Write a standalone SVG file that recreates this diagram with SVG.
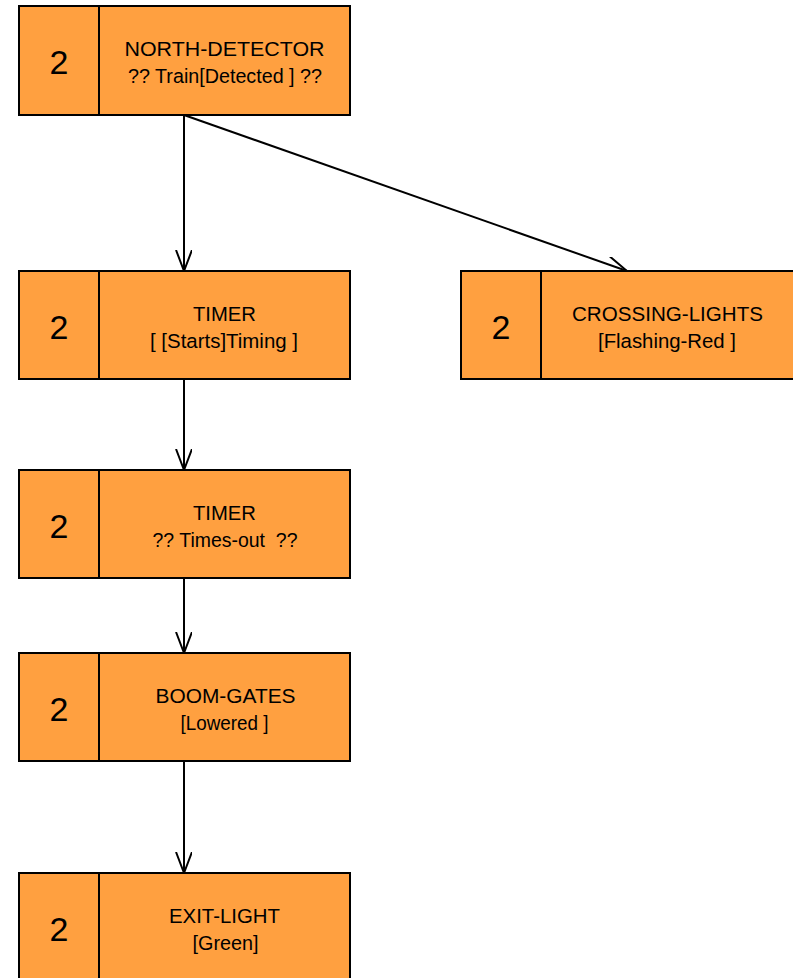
<svg xmlns="http://www.w3.org/2000/svg" width="793" height="978" viewBox="0 0 793 978">
  <defs>
    <style>
      .box { fill: #FFA040; stroke: #000; stroke-width: 2; }
      .div { stroke: #000; stroke-width: 2; }
      .num { font-family: "Liberation Sans", Arial, sans-serif; font-size: 34px; fill: #000; text-anchor: middle; }
      .lbl { font-family: "Liberation Sans", Arial, sans-serif; font-size: 20.5px; fill: #000; text-anchor: middle; white-space: pre; }
      .edge { stroke: #000; stroke-width: 2; fill: none; }
    </style>
    <marker id="open-arrow" markerUnits="userSpaceOnUse" markerWidth="24" markerHeight="20" refX="21" refY="8" orient="auto" viewBox="0 0 24 20">
      <path d="M0,0 L21,8 L0,16" fill="none" stroke="#000" stroke-width="2"/>
    </marker>
  </defs>

  <g id="connectors">
    <line class="edge" x1="184" y1="115" x2="184" y2="271" marker-end="url(#open-arrow)"/>
    <line class="edge" x1="184" y1="115" x2="627" y2="271" marker-end="url(#open-arrow)"/>
    <line class="edge" x1="184" y1="379" x2="184" y2="470" marker-end="url(#open-arrow)"/>
    <line class="edge" x1="184" y1="578" x2="184" y2="653" marker-end="url(#open-arrow)"/>
    <line class="edge" x1="184" y1="761" x2="184" y2="873" marker-end="url(#open-arrow)"/>
  </g>

  <g id="north-detector">
    <rect class="box" x="19" y="6" width="331" height="109"/>
    <line class="div" x1="99" y1="6" x2="99" y2="115"/>
    <text class="num" x="59" y="74">2</text>
    <text class="lbl" x="224.5" y="56" textLength="200" lengthAdjust="spacingAndGlyphs">NORTH-DETECTOR</text>
    <text class="lbl" x="225" y="83" textLength="194" lengthAdjust="spacingAndGlyphs">?? Train[Detected ] ??</text>
  </g>

  <g id="timer-starts">
    <rect class="box" x="19" y="271" width="331" height="108"/>
    <line class="div" x1="99" y1="271" x2="99" y2="379"/>
    <text class="num" x="59" y="339">2</text>
    <text class="lbl" x="224.5" y="321" textLength="63" lengthAdjust="spacingAndGlyphs">TIMER</text>
    <text class="lbl" x="224" y="348" textLength="148" lengthAdjust="spacingAndGlyphs">[ [Starts]Timing ]</text>
  </g>

  <g id="crossing-lights">
    <rect class="box" x="461" y="271" width="340" height="108"/>
    <line class="div" x1="541" y1="271" x2="541" y2="379"/>
    <text class="num" x="501" y="339">2</text>
    <text class="lbl" x="667.5" y="321" textLength="191" lengthAdjust="spacingAndGlyphs">CROSSING-LIGHTS</text>
    <text class="lbl" x="667" y="348" textLength="138" lengthAdjust="spacingAndGlyphs">[Flashing-Red ]</text>
  </g>

  <g id="timer-timesout">
    <rect class="box" x="19" y="470" width="331" height="108"/>
    <line class="div" x1="99" y1="470" x2="99" y2="578"/>
    <text class="num" x="59" y="538">2</text>
    <text class="lbl" x="224.5" y="520" textLength="63" lengthAdjust="spacingAndGlyphs">TIMER</text>
    <text class="lbl" x="225" y="547" textLength="145" lengthAdjust="spacingAndGlyphs">?? Times-out  ??</text>
  </g>

  <g id="boom-gates">
    <rect class="box" x="19" y="653" width="331" height="108"/>
    <line class="div" x1="99" y1="653" x2="99" y2="761"/>
    <text class="num" x="59" y="721">2</text>
    <text class="lbl" x="225.5" y="703" textLength="140" lengthAdjust="spacingAndGlyphs">BOOM-GATES</text>
    <text class="lbl" x="224.5" y="730" textLength="88" lengthAdjust="spacingAndGlyphs">[Lowered ]</text>
  </g>

  <g id="exit-light">
    <rect class="box" x="19" y="873" width="331" height="120"/>
    <line class="div" x1="99" y1="873" x2="99" y2="993"/>
    <text class="num" x="59" y="941">2</text>
    <text class="lbl" x="224.5" y="923" textLength="111" lengthAdjust="spacingAndGlyphs">EXIT-LIGHT</text>
    <text class="lbl" x="225.5" y="950" textLength="66" lengthAdjust="spacingAndGlyphs">[Green]</text>
  </g>
</svg>
